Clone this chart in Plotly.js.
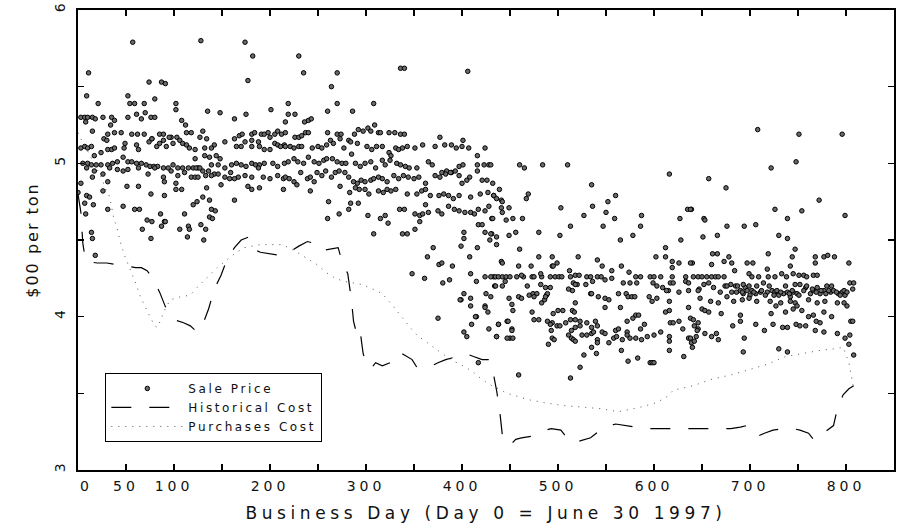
<!DOCTYPE html>
<html>
<head>
<meta charset="utf-8">
<script src="https://cdn.plot.ly/plotly-3.0.1.min.js"></script>
<style>
body{margin:0;background:#fff}
#chart{width:899px;height:531px}
svg text{letter-spacing:2.6px}
.xtick text{letter-spacing:4px}
.xtitle{letter-spacing:4.6px}
.ytitle{letter-spacing:2px}
.ytick text{letter-spacing:0}
</style>
</head>
<body>
<div id="chart"></div>
<script>
// Sale price observations [business day, $00 per ton]
const salesEarly = [
[57,5.79],[128,5.80],[174,5.79],[182,5.70],[11,5.59],[74,5.53],[87,5.53],[91,5.52],[177,5.54],
[9,5.44],[21,5.39],[52,5.44],[54,5.39],[59,5.39],[69,5.39],[80,5.42],[102,5.39],[102,5.35],[135,5.34],[148,5.33],[201,5.35],[175,5.32],[163,5.29],
[3,5.30],[7,5.30],[10,5.30],[15,5.30],[18,5.29],[26,5.30],[35,5.30],[38,5.28],[52,5.30],[61,5.32],[66,5.29],[70,5.33],[76,5.30],[80,5.30],[108,5.28],[112,5.25],[34,5.25],[8,5.27],
[15,5.21],[27,5.16],[31,5.19],[38,5.20],[45,5.20],[56,5.19],[62,5.19],[69,5.19],[77,5.16],[85,5.19],[89,5.19],[97,5.17],[103,5.17],[113,5.20],[118,5.20],[127,5.17],[130,5.21],[134,5.16],[163,5.16],[168,5.18],[171,5.19],[181,5.19],[184,5.20],[191,5.19],[194,5.19],[198,5.20],[205,5.19],[208,5.21],[212,5.19],[200,5.17],[181,5.15],[188,5.14],
[3,5.10],[7,5.11],[10,5.10],[14,5.11],[17,5.05],[24,5.07],[31,5.09],[35,5.09],[38,5.10],[30,5.15],[49,5.13],[48,5.10],[61,5.12],[63,5.09],[74,5.14],[77,5.16],[82,5.11],[85,5.13],[89,5.15],[92,5.11],[95,5.17],[99,5.13],[106,5.15],[109,5.13],[113,5.12],[116,5.10],[122,5.09],[132,5.10],[139,5.10],[142,5.12],[153,5.14],[165,5.11],[170,5.11],[174,5.14],[181,5.11],[189,5.11],[194,5.09],[200,5.09],[205,5.13],[208,5.12],[211,5.11],[215,5.12],
[5,5.00],[10,5.00],[14,4.99],[19,4.99],[24,4.99],[31,4.99],[36,5.00],[41,5.01],[47,5.04],[52,5.01],[56,5.01],[61,5.00],[66,5.00],[71,4.99],[75,4.98],[79,4.98],[83,4.98],[89,4.97],[94,4.97],[99,4.99],[104,4.97],[109,4.97],[115,4.97],[120,4.97],[125,4.97],[130,4.95],[136,4.95],[142,4.93],[139,4.99],[146,4.99],[153,4.97],[160,4.99],[165,5.00],[170,4.99],[175,4.98],[181,5.00],[185,4.99],[189,4.99],[194,5.00],[203,5.00],[208,4.98],[215,5.00],[148,5.03],[144,5.05],[122,5.03],[132,5.05],[137,5.04],
[9,4.97],[17,4.95],[26,4.93],[33,4.97],[41,4.96],[47,4.95],[52,4.96],[63,4.97],[73,4.93],[80,4.97],[89,4.91],[97,4.95],[104,4.92],[111,4.94],[118,4.91],[123,4.97],[127,4.97],[133,4.92],[139,4.92],[146,4.93],[153,4.91],[159,4.94],[167,4.91],[174,4.92],[181,4.91],[188,4.97],[193,4.91],[200,4.90],[208,4.92],[214,4.90],
[3,4.87],[15,4.91],[31,4.88],[51,4.85],[63,4.85],[90,4.88],[102,4.87],[122,4.91],[125,4.91],[134,4.84],[149,4.86],[158,4.90],[163,4.90],[177,4.85],[181,4.83],[189,4.84],[214,4.83],[26,4.82],[76,4.80],[90,4.79],[102,4.83],[108,4.83],[0,4.81],[9,4.79],[12,4.78],
[7,4.74],[16,4.73],[47,4.72],[59,4.70],[64,4.70],[86,4.67],[90,4.62],[111,4.67],[120,4.73],[124,4.75],[130,4.78],[137,4.76],[139,4.70],[143,4.69],[137,4.65],[140,4.64],[163,4.76],[31,4.70],[8,4.67],
[72,4.63],[77,4.62],[67,4.57],[87,4.59],[91,4.62],[106,4.57],[115,4.59],[116,4.57],[128,4.60],[133,4.57],[14,4.55],[15,4.51],[76,4.51],[114,4.52],[131,4.50],[18,4.40]
];
const salesMid = [
[230,5.70],[235,5.59],[270,5.59],[264,5.50],[336,5.62],[340,5.62],[406,5.60],[219,5.39],[270,5.39],[308,5.39],[260,5.34],[286,5.34],
[226,5.32],[219,5.32],[236,5.27],[240,5.28],[243,5.29],[216,5.27],
[216,5.20],[226,5.17],[230,5.17],[233,5.18],[237,5.20],[240,5.20],[260,5.20],[270,5.19],[274,5.19],[282,5.15],[288,5.19],[292,5.22],[297,5.21],[302,5.23],[305,5.21],[309,5.25],[313,5.20],[315,5.20],[324,5.20],[330,5.20],[336,5.19],[340,5.19],[377,5.17],[401,5.15],
[216,5.11],[221,5.11],[225,5.10],[230,5.11],[233,5.11],[244,5.10],[250,5.11],[254,5.10],[259,5.12],[263,5.15],[266,5.13],[273,5.16],[277,5.10],[284,5.14],[291,5.13],[301,5.11],[306,5.09],[311,5.11],[317,5.11],[324,5.07],[326,5.05],[331,5.10],[334,5.09],[338,5.10],[343,5.11],[351,5.10],[359,5.12],[372,5.11],[382,5.12],[389,5.12],[394,5.10],[400,5.11],[407,5.10],[416,5.05],[424,5.10],
[219,5.01],[225,5.03],[229,5.01],[235,5.00],[240,5.04],[246,5.01],[251,5.00],[256,5.02],[259,5.03],[265,5.03],[270,5.01],[275,5.00],[279,5.00],[285,5.06],[289,5.00],[294,4.98],[299,5.00],[305,5.01],[310,4.97],[317,5.02],[320,4.99],[325,5.02],[332,5.00],[336,4.99],[341,4.98],[345,4.97],[353,4.97],[365,5.01],[369,4.99],[379,4.94],[384,4.95],[389,4.94],[397,4.98],[401,4.99],[408,4.91],[416,4.99],[423,4.99],[428,4.99],
[216,4.91],[220,4.90],[225,4.88],[228,4.86],[232,4.94],[239,4.90],[242,4.91],[246,4.88],[249,4.94],[254,4.92],[258,4.95],[264,4.91],[268,4.94],[272,4.95],[278,4.94],[282,4.91],[287,4.88],[291,4.87],[295,4.89],[299,4.88],[305,4.89],[308,4.90],[313,4.91],[317,4.90],[322,4.88],[329,4.92],[334,4.90],[339,4.92],[344,4.91],[350,4.90],[355,4.91],[362,4.87],[372,4.92],[377,4.91],[383,4.93],[388,4.94],[393,4.95],[397,4.92],[400,4.87],[405,4.89],[416,4.95],[421,4.89],[426,4.89],[432,4.87],
[242,4.82],[273,4.85],[283,4.81],[289,4.84],[293,4.83],[299,4.83],[303,4.80],[313,4.82],[318,4.81],[322,4.83],[326,4.82],[331,4.83],[343,4.80],[353,4.80],[358,4.82],[362,4.83],[367,4.79],[376,4.79],[381,4.80],[386,4.79],[391,4.77],[397,4.79],[409,4.78],[419,4.80],[427,4.81],[433,4.79],[261,4.75],[284,4.74],[292,4.74],[260,4.64],[272,4.67],[282,4.70],[302,4.66],[315,4.64],[320,4.66],[323,4.61],[335,4.70],[340,4.70],[351,4.67],[356,4.66],[359,4.67],[362,4.73],[356,4.62],[365,4.68],[375,4.69],[379,4.67],[386,4.72],[392,4.70],[397,4.69],[403,4.68],[409,4.68],[413,4.67],[417,4.70],[424,4.69],[428,4.72],[431,4.64],
[351,4.57],[338,4.54],[343,4.54],[308,4.54],[417,4.60],[421,4.60],[402,4.55],[402,4.51],[424,4.55],[429,4.50],[431,4.54],[370,4.45],[399,4.46],[416,4.45],[364,4.39],[376,4.34],[379,4.35],[390,4.33],[348,4.28],[361,4.25],[380,4.22],[387,4.24],[409,4.28],[415,4.23],[424,4.26],[433,4.26],[399,4.11],[409,4.12],[409,4.07],[415,4.00],[424,4.07],[427,4.03],[428,3.92],[434,4.20],[375,3.99],[402,3.90],[405,3.87],[417,3.70],
[398,4.11],[402,4.15],[410,3.95],[425,4.15],[436,3.87],[408,4.39],[424,4.06],[447,3.97],[450,3.86],[452,3.92],[438,3.95],[414,4.00]
];
const salesLate = [
[430,4.99],[460,4.99],[465,4.97],[484,4.99],[510,4.99],[616,4.93],[535,4.86],
[439,4.83],[433,4.79],[436,4.77],[441,4.76],[442,4.75],[469,4.80],[467,4.77],[560,4.79],[552,4.75],[503,4.71],[536,4.72],[441,4.71],[449,4.71],[442,4.68],
[432,4.64],[446,4.63],[453,4.64],[463,4.64],[527,4.66],[550,4.68],[559,4.64],[587,4.66],[627,4.64],[635,4.70],[639,4.70],
[513,4.59],[547,4.59],[586,4.59],
[430,4.54],[436,4.52],[449,4.53],[456,4.55],[480,4.55],[502,4.53],[565,4.50],[578,4.53],[628,4.50],
[436,4.47],[460,4.44],[612,4.45],
[441,4.36],[442,4.35],[480,4.39],[494,4.39],[521,4.39],[541,4.37],[602,4.39],[612,4.39],[619,4.36],[626,4.35],[619,4.32],[640,4.35],
[459,4.33],[472,4.33],[494,4.33],[499,4.35],[495,4.33],[512,4.30],[546,4.33],[566,4.33],[556,4.30],[574,4.29],
[430,4.26],[435,4.26],[438,4.26],[442,4.26],[446,4.26],[450,4.26],[457,4.26],[464,4.26],[473,4.26],[475,4.26],[483,4.26],[492,4.26],[497,4.26],[501,4.26],[504,4.26],[513,4.26],[518,4.27],[522,4.27],[530,4.26],[534,4.26],[541,4.26],[545,4.26],[556,4.25],[581,4.26],[586,4.26],[596,4.26],[600,4.26],[607,4.26],[619,4.26],[633,4.26],[641,4.26],[646,4.26],
[435,4.20],[442,4.20],[445,4.23],[462,4.27],[468,4.20],[482,4.21],[487,4.19],[492,4.19],[482,4.28],[516,4.22],[520,4.21],[529,4.21],[536,4.23],[549,4.24],[568,4.22],[575,4.22],[582,4.22],[599,4.22],[603,4.20],[617,4.22],[620,4.22],[633,4.23],[636,4.22],[609,4.19],[615,4.17],
[430,4.13],[459,4.13],[462,4.12],[470,4.14],[474,4.15],[478,4.15],[475,4.13],[488,4.14],[489,4.15],[515,4.17],[511,4.18],[518,4.21],[534,4.15],[535,4.15],[542,4.13],[549,4.12],[553,4.11],[563,4.15],[571,4.15],[573,4.13],[577,4.13],[580,4.13],[595,4.13],[598,4.10],[603,4.12],[613,4.17],[626,4.16],[636,4.17],[647,4.18],
[449,4.12],[452,4.08],[453,4.04],[473,4.03],[483,4.09],[486,4.11],[487,4.13],[495,4.02],[500,4.04],[505,4.04],[515,4.04],[517,4.03],[518,4.09],[549,4.06],[565,4.06],[581,4.01],[612,4.03],[616,4.04],[616,4.10],[636,4.06],
[438,3.95],[448,3.97],[475,3.98],[480,3.98],[489,3.97],[494,3.96],[499,3.94],[502,3.94],[508,3.96],[513,3.98],[518,3.98],[523,3.97],[530,3.96],[539,3.97],[541,3.94],[492,3.95],[514,3.91],[518,3.93],[523,3.94],[535,3.93],[546,3.90],[560,3.91],[563,3.92],[572,3.97],[578,3.99],[584,4.01],[590,3.95],[572,3.90],[586,3.92],[617,3.96],[620,3.96],[626,3.97],[630,3.92],[638,3.99],[642,3.94],[646,3.92],
[452,3.91],[436,3.87],[447,3.86],[453,3.86],[493,3.91],[494,3.86],[496,3.85],[490,3.82],[511,3.88],[514,3.86],[516,3.85],[525,3.88],[530,3.88],[535,3.89],[537,3.90],[541,3.85],[549,3.89],[553,3.83],[558,3.86],[561,3.87],[567,3.85],[572,3.88],[575,3.86],[581,3.86],[587,3.85],[593,3.87],[600,3.88],[607,3.90],[616,3.87],[616,3.84],[636,3.86],[639,3.83],[644,3.87],[541,3.83],[535,3.80],[518,3.84],
[616,3.78],[566,3.78],[527,3.75],[540,3.76],[640,3.80],[631,3.74],[573,3.71],[583,3.73],[596,3.70],[598,3.70],[600,3.70],[523,3.67],[459,3.62],[513,3.60],
[708,5.22],[751,5.19],[796,5.19],[748,5.01],[722,4.97],[657,4.90],[675,4.84],[772,4.76],[638,4.70],[726,4.70],[754,4.69],[799,4.66],[652,4.64],[653,4.63],[739,4.64],[676,4.59],[694,4.59],[706,4.60],[651,4.52],[666,4.53],[730,4.53],[739,4.51],[747,4.44],
[661,4.41],[666,4.41],[719,4.41],[678,4.39],[744,4.39],[768,4.39],[777,4.39],[781,4.40],[788,4.39],[638,4.35],[660,4.34],[673,4.36],[681,4.35],[697,4.35],[703,4.35],[768,4.35],[803,4.35],[742,4.33],[684,4.30],[718,4.31],
[650,4.26],[655,4.26],[660,4.26],[664,4.26],[667,4.26],[673,4.26],[699,4.28],[702,4.26],[709,4.26],[719,4.26],[726,4.26],[733,4.28],[738,4.26],[745,4.28],[751,4.27],[756,4.27],[759,4.26],[766,4.27],[770,4.27],
[646,4.17],[652,4.21],[657,4.22],[662,4.19],[669,4.16],[674,4.20],[680,4.21],[685,4.20],[686,4.16],[690,4.17],[693,4.15],[695,4.19],[699,4.20],[702,4.17],[706,4.15],[711,4.16],[714,4.22],[718,4.16],[723,4.17],[726,4.16],[730,4.14],[735,4.15],[739,4.16],[742,4.13],[745,4.16],[749,4.15],[752,4.21],[758,4.19],[763,4.15],[766,4.17],[770,4.19],[773,4.15],[777,4.17],[780,4.20],[784,4.16],[787,4.17],[792,4.15],[796,4.16],[799,4.14],[804,4.22],[807,4.18],[808,4.22],
[676,4.20],[681,4.16],[687,4.20],[692,4.16],[693,4.21],[697,4.17],[700,4.14],[704,4.16],[707,4.20],[712,4.17],[716,4.14],[720,4.20],[725,4.14],[728,4.17],[732,4.16],[737,4.20],[741,4.15],[744,4.17],[747,4.21],[751,4.14],[756,4.17],[759,4.20],[765,4.18],[769,4.16],[774,4.17],[779,4.15],[782,4.17],[785,4.20],[790,4.16],[794,4.14],[798,4.17],[801,4.16],
[648,4.12],[659,4.10],[667,4.09],[676,4.13],[683,4.10],[692,4.11],[699,4.12],[707,4.10],[721,4.10],[727,4.07],[732,4.09],[742,4.10],[747,4.09],[761,4.11],[770,4.09],[778,4.10],[791,4.09],[801,4.07],[798,4.09],
[650,4.05],[653,4.04],[657,4.03],[670,4.02],[690,4.01],[682,3.94],[690,3.97],[706,3.95],[724,3.95],[722,4.02],[737,4.03],[745,4.05],[749,4.07],[754,4.04],[761,4.00],[766,4.01],[769,3.97],[773,3.96],[777,4.03],[785,4.00],[734,3.93],[739,3.93],[748,3.95],[752,3.94],[758,3.94],[768,3.91],[777,3.90],[805,3.97],[807,3.97],[641,3.98],[646,3.96],[645,3.91],[638,3.86],[642,3.84],[653,3.89],[660,3.87],[667,3.85],[665,3.89],[694,3.86],[715,3.91],[791,3.89],[799,3.86],[804,3.88],[803,3.82],[808,3.75],[693,3.77],[730,3.79],[739,3.77]
];

// Historical cost (dashed)
const histDays = [0,3,5,8,20,30,40,50,60,66,72,78,85,92,100,110,117,124,130,136,142,149,155,163,170,178,183,190,200,210,220,230,239,245,253,262,271,275,281,285,287,289,292,294,297,300,305,310,317,325,334,340,348,353,360,366,375,383,395,404,412,421,428,432,436,439,442,446,450,456,462,472,482,493,503,513,523,534,542,549,560,570,580,590,600,610,620,630,640,650,660,670,680,690,697,702,708,715,724,735,745,752,761,766,771,774,782,787,791,797,803,808];
const histCost = [4.80,4.68,4.48,4.36,4.35,4.35,4.34,4.33,4.32,4.32,4.30,4.25,4.16,4.05,3.98,3.96,3.94,3.90,3.95,4.05,4.18,4.27,4.37,4.45,4.50,4.52,4.44,4.42,4.41,4.40,4.42,4.46,4.49,4.48,4.43,4.44,4.45,4.36,4.28,4.10,3.97,3.92,3.95,3.90,3.76,3.70,3.66,3.70,3.68,3.70,3.77,3.75,3.72,3.67,3.67,3.67,3.70,3.72,3.74,3.76,3.74,3.72,3.72,3.65,3.52,3.40,3.23,3.18,3.16,3.20,3.21,3.22,3.25,3.27,3.26,3.18,3.19,3.21,3.25,3.28,3.30,3.29,3.28,3.27,3.27,3.27,3.27,3.27,3.27,3.27,3.27,3.27,3.27,3.28,3.29,3.25,3.22,3.24,3.26,3.27,3.27,3.26,3.24,3.20,3.20,3.23,3.27,3.29,3.40,3.49,3.53,3.55];

// Purchases cost (dotted)
const purDays = [0,3,10,18,25,28,32,34,37,41,44,49,55,60,65,70,75,80,83,90,96,107,117,124,130,137,145,153,163,173,190,211,220,228,239,249,258,268,277,296,307,317,328,338,346,353,362,371,380,388,398,409,419,428,438,447,458,468,485,506,526,544,563,586,603,614,620,641,659,680,697,718,737,755,773,787,797,803,808];
const purCost = [5.20,5.16,5.08,4.98,4.90,4.84,4.80,4.75,4.65,4.57,4.49,4.39,4.30,4.22,4.13,4.06,4.00,3.94,3.93,4.04,4.11,4.13,4.14,4.19,4.23,4.27,4.32,4.36,4.41,4.45,4.47,4.47,4.45,4.42,4.38,4.34,4.29,4.25,4.23,4.21,4.18,4.15,4.07,3.99,3.93,3.88,3.84,3.80,3.76,3.72,3.69,3.65,3.60,3.56,3.53,3.50,3.48,3.46,3.44,3.42,3.41,3.40,3.38,3.41,3.44,3.48,3.52,3.55,3.59,3.62,3.65,3.69,3.74,3.76,3.78,3.79,3.80,3.70,3.53];

// Axis ticks
const xTickVals = [0,50,100,150,200,250,300,350,400,450,500,550,600,650,700,750,800];
const xTickText = ['\u00a0\u00a00','50','100','','200','','300','','400','','500','','600','','700','','800'];
const yTickVals = [3,3.5,4,4.5,5,5.5,6];
const yTickText = ['3','','4','','5','','6'];

const sales = salesEarly.concat(salesMid, salesLate);
const saleDay = sales.map(p => p[0]);
const salePrice = sales.map(p => p[1]);

const FONT = 'DejaVu Sans, sans-serif';

const traces = [
  {x: saleDay, y: salePrice, type: 'scatter', mode: 'markers', name: 'Sale Price',
   marker: {size: 4.5, color: '#6a6a6a', line: {color: '#000', width: 1}}},
  {x: histDays, y: histCost, type: 'scatter', mode: 'lines', name: 'Historical Cost',
   line: {color: '#000', width: 1.2, dash: '20px,18px'}},
  {x: purDays, y: purCost, type: 'scatter', mode: 'lines', name: 'Purchases Cost',
   line: {color: '#555', width: 1, dash: '1px,6px'}}
];

const axisCommon = {
  showline: true, linewidth: 2, linecolor: '#000', mirror: 'allticks',
  ticks: 'inside', ticklen: 6, tickwidth: 1.5, tickcolor: '#000',
  showgrid: false, zeroline: false, automargin: false
};

const layout = {
  width: 899, height: 531,
  margin: {l: 78, r: 5, t: 10, b: 61},
  paper_bgcolor: '#fff', plot_bgcolor: '#fff',
  font: {family: FONT, color: '#111'},
  showlegend: true,
  legend: {x: 0.0335, y: 0.061, xanchor: 'left', yanchor: 'bottom',
    bgcolor: '#fff', bordercolor: '#000', borderwidth: 1,
    font: {family: FONT, size: 12, color: '#111'}, itemwidth: 72, tracegroupgap: 0},
  xaxis: Object.assign({}, axisCommon, {
    range: [0, 850], tickmode: 'array', tickvals: xTickVals, ticktext: xTickText,
    tickfont: {family: FONT, size: 14, color: '#111'}, ticklabelstandoff: 2,
    title: {text: 'Business Day (Day 0 = June 30 1997)', font: {family: FONT, size: 17, color: '#111'}, standoff: 14}
  }),
  yaxis: Object.assign({}, axisCommon, {
    range: [3, 6], tickmode: 'array', tickvals: yTickVals, ticktext: yTickText,
    tickangle: -90, tickfont: {family: FONT, size: 14, color: '#111'}, ticklabelstandoff: 5,
    title: {text: '$00 per ton', font: {family: FONT, size: 16, color: '#111'}, standoff: 10}
  })
};

Plotly.newPlot('chart', traces, layout, {displayModeBar: false, staticPlot: true});
</script>
</body>
</html>
